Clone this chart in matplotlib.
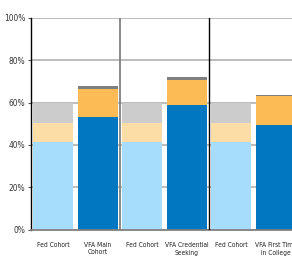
import numpy as np
import matplotlib.pyplot as plt

# --- DATA ---
labels = ["Fed Cohort", "VFA Main\nCohort", "Fed Cohort", "VFA Credential\nSeeking",
          "Fed Cohort", "VFA First Time\nin College"]
is_fed = [True, False, True, False, True, False]
seg1 = [41.4, 53.2, 41.4, 58.8, 41.4, 49.6]
seg2 = [9.0, 13.2, 9.0, 11.8, 9.0, 13.3]
seg3 = [9.6, 1.5, 9.6, 1.6, 9.6, 0.8]
yticks = [0, 20, 40, 60, 80, 100]

fed_colors = ["#a6ddfc", "#fcdda6", "#cccccc"]
vfa_colors = ["#0077c0", "#fcbb55", "#7f7f7f"]

plt.rcParams['font.family'] = ['DejaVu Sans']
plt.rcParams['font.stretch'] = 'condensed'

fig = plt.figure(figsize=(2.92, 2.59), dpi=100)
ax = fig.add_axes([31 / 292, 1 - 229.5 / 259, 264 / 292, 211.5 / 259])

x = np.arange(len(labels))
bottom = np.zeros(len(labels))
for i, seg in enumerate([seg1, seg2, seg3]):
    cols = [fed_colors[i] if f else vfa_colors[i] for f in is_fed]
    ax.bar(x, seg, bottom=bottom, width=0.89, color=cols, zorder=2)
    bottom += np.array(seg)

ax.set_ylim(0, 100)
ax.set_xlim(-0.5, 5.5 - 3 / 44)
ax.set_yticks(yticks)
ax.set_yticklabels([f"{v}%" for v in yticks], fontsize=6, color='#333333')
ax.set_xticks(x)
ax.set_xticklabels(labels, fontsize=4.8, linespacing=1.3, color='#222222')
ax.tick_params(axis='x', length=0, pad=9)
ax.tick_params(axis='y', length=2, width=0.8, color='#555555', pad=2)

ax.yaxis.grid(True, color='#b0b0b0', linewidth=1.2, zorder=0)
ax.set_axisbelow(True)

# separators between the pairs
ax.axvline(1.5, color='#808080', linewidth=1.3, zorder=3)
ax.axvline(3.5, color='black', linewidth=1.0, zorder=3)

for s in ['top', 'right']:
    ax.spines[s].set_visible(False)
ax.spines['left'].set_color('black')
ax.spines['left'].set_linewidth(1.0)
ax.spines['bottom'].set_color('#808080')
ax.spines['bottom'].set_linewidth(1.3)

fig.savefig("out.png", dpi=100)
